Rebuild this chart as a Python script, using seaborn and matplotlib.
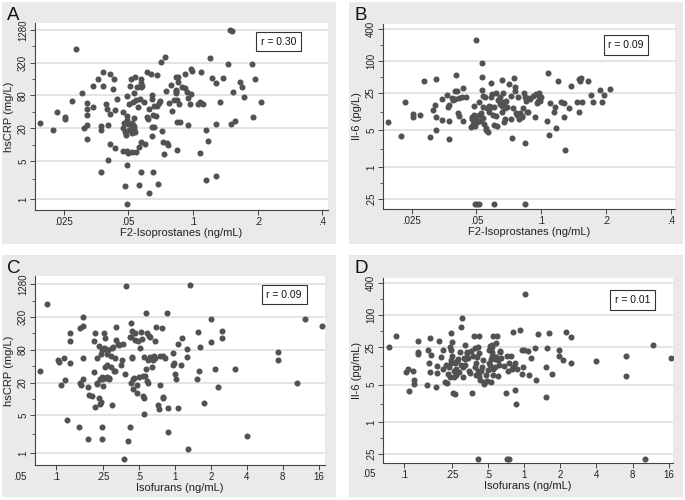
import matplotlib
matplotlib.use("Agg")
import matplotlib.pyplot as plt
import seaborn as sns
from matplotlib.patches import Rectangle
from matplotlib.ticker import FixedLocator, NullLocator, NullFormatter

plt.rcParams["font.family"] = ["Liberation Sans", "DejaVu Sans"]

# --- data ---
# panel A: F2-isoprostanes vs hsCRP
a_x = [0.0194, 0.0224, 0.0234, 0.0254, 0.0254, 0.0274, 0.0285, 0.0303, 0.0312, 0.0322,
       0.0322, 0.0322, 0.0322, 0.0322, 0.0344, 0.0344, 0.0363, 0.0373, 0.0373, 0.0373,
       0.0383, 0.0383, 0.0393, 0.040, 0.0403, 0.0403, 0.041, 0.041, 0.041, 0.0423,
       0.043, 0.0432, 0.0432, 0.0441, 0.047, 0.047, 0.0472, 0.0478, 0.0482, 0.0484,
       0.0487, 0.0491, 0.0491, 0.0491, 0.0491, 0.0491, 0.0495, 0.050, 0.0498, 0.0502,
       0.0505, 0.0509, 0.0513, 0.0518, 0.052, 0.052, 0.0523, 0.0527, 0.053, 0.0534,
       0.0534, 0.0532, 0.0536, 0.0538, 0.0541, 0.0545, 0.0549, 0.0556, 0.056, 0.0563,
       0.0567, 0.057, 0.0572, 0.0574, 0.0576, 0.0576, 0.058, 0.0594, 0.060, 0.0608,
       0.0608, 0.0617, 0.0622, 0.0622, 0.064, 0.0642, 0.0645, 0.0647, 0.0648, 0.0652,
       0.0652, 0.066, 0.0662, 0.067, 0.0677, 0.068, 0.069, 0.0692, 0.070, 0.0708,
       0.0716, 0.074, 0.0727, 0.0735, 0.075, 0.0757, 0.0769, 0.0774, 0.0787, 0.0802,
       0.0819, 0.083, 0.0833, 0.0833, 0.0833, 0.084, 0.084, 0.0846, 0.0855, 0.0855,
       0.0864, 0.087, 0.0885, 0.092, 0.0923, 0.0937, 0.0947, 0.095, 0.0967, 0.0982,
       0.0982, 0.0989, 0.106, 0.108, 0.109, 0.108, 0.111, 0.115, 0.115, 0.117,
       0.120, 0.122, 0.128, 0.128, 0.128, 0.134, 0.138, 0.146, 0.148, 0.152,
       0.150, 0.154, 0.157, 0.165, 0.170, 0.172, 0.188, 0.190, 0.195, 0.208]
a_y = [24.6, 18.5, 40, 31.6, 29.6, 63, 564, 89, 20.5, 57,
       45.7, 35.5, 22.6, 12.8, 48.5, 121, 159, 21.9, 18.3, 3.1,
       216, 120, 56, 46, 22.6, 5.3, 198, 36.6, 10.2, 103,
       163, 42.6, 8.8, 70, 39, 7.7, 19.9, 24.6, 1.76, 17.3,
       15, 79.5, 33.7, 28.3, 4.2, 0.81, 7.6, 7.1, 24, 18.5,
       56, 119, 159, 24.6, 16.1, 7.2, 20.8, 61.5, 22, 19.1,
       30.3, 87.6, 178, 17.3, 7.4, 66, 113, 48.5, 9.1, 1.8,
       68, 3.1, 11.3, 113, 134, 163, 119, 60.6, 10.2, 219,
       31.6, 29.1, 1.27, 45, 198, 81.7, 68, 20.8, 14.3, 3.1,
       35, 52, 21.3, 33.7, 188, 51, 1.9, 57, 64, 329,
       18, 402, 11.3, 6.7, 98, 10.5, 9.8, 57, 123, 42,
       66, 101, 178, 98, 90, 8, 26, 66, 173, 143,
       56, 26, 116, 108, 196, 94, 71, 22.6, 55, 85.5,
       242, 226, 56, 61.5, 219, 6.9, 56, 18.5, 2.2, 11.7,
       385, 170, 137, 24, 2.6, 61.5, 166, 303, 1280, 1230,
       24, 94, 27, 143, 116, 74, 303, 31.6, 161, 60]

# panel B: F2-isoprostanes vs Il-6
b_x = [0.0195, 0.0224, 0.0234, 0.0254, 0.0254, 0.0272, 0.0285, 0.0303, 0.0314, 0.032,
       0.0324, 0.0324, 0.0324, 0.0344, 0.0344, 0.0363, 0.037, 0.0372, 0.0372, 0.0374,
       0.0383, 0.039, 0.0396, 0.0402, 0.0399, 0.0406, 0.041, 0.0414, 0.0415, 0.0427,
       0.0431, 0.0433, 0.0445, 0.0473, 0.0476, 0.0479, 0.0482, 0.0485, 0.0488, 0.0489,
       0.0494, 0.050, 0.050, 0.0505, 0.0513, 0.0514, 0.0518, 0.0523, 0.053, 0.0532,
       0.0532, 0.0535, 0.0537, 0.0538, 0.054, 0.0548, 0.0552, 0.0556, 0.0561, 0.0566,
       0.057, 0.0574, 0.0581, 0.0581, 0.0587, 0.0593, 0.0597, 0.060, 0.0606, 0.0613,
       0.0619, 0.0622, 0.0632, 0.064, 0.0646, 0.0654, 0.0658, 0.066, 0.0665, 0.0665,
       0.0671, 0.0673, 0.0676, 0.0681, 0.0689, 0.0693, 0.071, 0.0721, 0.0725, 0.0735,
       0.0742, 0.075, 0.0755, 0.0757, 0.0765, 0.0775, 0.078, 0.0787, 0.0794, 0.081,
       0.0818, 0.0823, 0.0831, 0.084, 0.0843, 0.0849, 0.0856, 0.0867, 0.087, 0.089,
       0.0916, 0.0937, 0.0947, 0.0954, 0.0961, 0.0971, 0.098, 0.0991, 0.100, 0.106,
       0.108, 0.109, 0.11, 0.115, 0.116, 0.117, 0.12, 0.123, 0.127, 0.127,
       0.129, 0.135, 0.138, 0.147, 0.149, 0.150, 0.151, 0.153, 0.155, 0.165,
       0.170, 0.173, 0.188, 0.191, 0.195, 0.208, 0.0493, 0.0505, 0.0516, 0.0601,
       0.084]
b_y = [7.2, 3.9, 16.7, 9.9, 8.7, 9.8, 42.3, 3.7, 12, 14.7,
       46.7, 8.9, 5.1, 7.75, 19.3, 22.7, 13.4, 3.4, 7.4, 14.7,
       19.9, 18.5, 19.0, 54, 27, 27, 10.4, 9.3, 19.9, 20.8,
       31.7, 7.5, 21.3, 5.8, 8.9, 8.2, 6.5, 7.8, 9.6, 14.3,
       6.0, 252, 8.7, 7.2, 17.2, 9.6, 7.5, 10.4, 91, 50,
       28.5, 13.9, 22, 8.3, 6.5, 20.8, 5.4, 5.0, 13.2, 4.6,
       11.1, 14.3, 39, 13.4, 21.3, 24, 9.6, 6.25, 13.9, 25.5,
       9.2, 6.0, 18.5, 15.5, 20.8, 14.3, 11.1, 44, 25.5, 17.2,
       16.0, 7.2, 12.8, 8.0, 17.9, 13.4, 37.6, 22, 8.1, 3.5,
       12.8, 47.4, 33, 27.4, 10.4, 9.6, 21.3, 8.0, 10.4, 9.2,
       8.7, 12.8, 25.5, 2.9, 21.3, 17.6, 11.1, 20.4, 10.9, 19.0,
       22, 8.9, 24, 16.0, 17.9, 22, 25.5, 17.9, 20.8, 7.5,
       60.7, 4.0, 16.0, 11.1, 13.9, 5.6, 42.8, 17.2, 8.7, 16.4,
       2.1, 12.8, 34, 17.2, 11.1, 45.3, 42.8, 47.4, 17.2, 41.8,
       23, 17.2, 28.5, 17.2, 23, 29.8, 0.2, 0.2, 0.2, 0.2,
       0.2]

# panel C: isofurans vs hsCRP
c_x = [0.0743, 0.085, 0.105, 0.107, 0.11, 0.118, 0.12, 0.125, 0.132, 0.132,
       0.132, 0.157, 0.16, 0.16, 0.162, 0.168, 0.168, 0.168, 0.17, 0.187,
       0.188, 0.191, 0.2, 0.21, 0.21, 0.215, 0.213, 0.22, 0.222, 0.223,
       0.23, 0.231, 0.235, 0.241, 0.237, 0.239, 0.242, 0.243, 0.244, 0.246,
       0.246, 0.248, 0.254, 0.252, 0.258, 0.259, 0.261, 0.262, 0.265, 0.267,
       0.269, 0.271, 0.274, 0.279, 0.279, 0.291, 0.291, 0.294, 0.297, 0.301,
       0.305, 0.314, 0.314, 0.32, 0.323, 0.335, 0.338, 0.35, 0.358, 0.365,
       0.381, 0.388, 0.376, 0.406, 0.418, 0.42, 0.424, 0.428, 0.428, 0.432,
       0.436, 0.44, 0.442, 0.446, 0.451, 0.462, 0.466, 0.476, 0.479, 0.488,
       0.503, 0.51, 0.52, 0.53, 0.536, 0.536, 0.546, 0.553, 0.553, 0.564,
       0.571, 0.571, 0.583, 0.583, 0.59, 0.59, 0.6, 0.613, 0.613, 0.646,
       0.659, 0.672, 0.685, 0.685, 0.692, 0.725, 0.735, 0.75, 0.751, 0.774,
       0.79, 0.8, 0.8, 0.83, 0.851, 0.867, 0.87, 0.956, 0.969, 0.982,
       1.0, 1.02, 1.05, 1.066, 1.12, 1.15, 1.25, 1.25, 1.29, 1.34,
       1.55, 1.54, 1.6, 1.62, 1.75, 1.99, 1.99, 2.16, 2.28, 2.49,
       2.49, 3.2, 4.04, 7.35, 7.35, 10.5, 12.3, 17.0]
c_y = [32, 556, 52, 48, 18, 57, 22, 4.1, 45, 118,
       165, 3.1, 20, 198, 18, 219, 325, 23, 57, 16.8,
       1.8, 11.8, 11.3, 31.6, 118, 161, 7.2, 20, 19, 57,
       10.6, 94, 23, 67, 8, 8.9, 25, 80, 1.8, 23,
       3.1, 17, 161, 85, 24, 39, 130, 24, 82, 67,
       25, 42, 80, 23, 24, 62, 39, 7.7, 85, 89,
       33, 57, 32, 121, 213, 102, 98, 42, 52, 102,
       29, 1190, 0.8, 1.7, 136, 3.1, 20, 253, 136, 57,
       178, 60, 23, 15, 24, 121, 161, 18, 12.6, 118,
       25, 85, 173, 124, 11.3, 26, 10.2, 5.3, 60, 26,
       375, 36, 21, 161, 20, 53, 143, 136, 60, 38,
       52, 62, 118, 57, 213, 7.7, 6.5, 62, 18, 198,
       10.2, 10.7, 62, 57, 385, 6.8, 2.5, 69, 42, 46,
       29, 23, 6.8, 101, 42, 130, 58, 82, 1.2, 1245,
       173, 23, 32, 91, 8.4, 290, 113, 35, 16.8, 130,
       180, 35, 2.1, 73, 52, 19.7, 294, 219]

# panel D: isofurans vs Il-6
d_x = [0.074, 0.085, 0.103, 0.106, 0.109, 0.117, 0.12, 0.12, 0.129, 0.13,
       0.13, 0.155, 0.157, 0.16, 0.163, 0.164, 0.168, 0.185, 0.187, 0.187,
       0.196, 0.2, 0.21, 0.21, 0.218, 0.224, 0.225, 0.23, 0.235, 0.24,
       0.24, 0.243, 0.244, 0.246, 0.247, 0.246, 0.25, 0.255, 0.258, 0.26,
       0.262, 0.262, 0.267, 0.271, 0.275, 0.278, 0.286, 0.29, 0.294, 0.296,
       0.304, 0.306, 0.309, 0.313, 0.317, 0.319, 0.322, 0.327, 0.331, 0.334,
       0.341, 0.348, 0.353, 0.357, 0.365, 0.375, 0.379, 0.387, 0.389, 0.394,
       0.398, 0.403, 0.408, 0.411, 0.413, 0.42, 0.418, 0.42, 0.425, 0.436,
       0.44, 0.45, 0.458, 0.463, 0.478, 0.485, 0.5, 0.503, 0.51, 0.513,
       0.517, 0.525, 0.525, 0.533, 0.535, 0.54, 0.542, 0.546, 0.55, 0.552,
       0.56, 0.567, 0.57, 0.572, 0.578, 0.585, 0.59, 0.599, 0.605, 0.615,
       0.623, 0.63, 0.645, 0.68, 0.707, 0.718, 0.723, 0.727, 0.74, 0.748,
       0.784, 0.78, 0.798, 0.806, 0.836, 0.825, 0.836, 0.86, 0.874, 0.92,
       0.95, 0.961, 0.985, 0.98, 1.01, 1.07, 1.1, 1.14, 1.23, 1.26,
       1.3, 1.52, 1.52, 1.56, 1.61, 1.7, 1.93, 1.95, 2.12, 2.23,
       2.43, 2.43, 3.94, 7.06, 7.06, 10.2, 11.9, 16.7]
d_y = [25.2, 41, 8.8, 10, 3.8, 9.2, 6.1, 5.2, 18.9, 20.3,
       33.5, 4.9, 22.4, 12.9, 8.8, 37, 18, 4.6, 8.4, 11.2,
       33, 16.8, 10, 22.4, 5.7, 11.8, 5.3, 7.9, 10.9, 25,
       6.9, 14.6, 12.6, 46, 32, 22.4, 17.3, 3.5, 7.1, 9.0,
       3.4, 12.6, 7.6, 9.7, 14.2, 15, 8.8, 20.9, 60, 11.8,
       88, 10.6, 7.1, 15.6, 27.8, 15, 11.8, 15.6, 20.9, 19.4,
       15.6, 9.2, 8.4, 21.8, 3.5, 17.3, 41, 10.6, 24.2, 7.6,
       12.6, 16.8, 9.2, 25, 0.2, 41, 7.3, 19.4, 6.1, 9.2,
       10.9, 14.6, 5.7, 5.2, 7.6, 5.9, 9.4, 22.4, 12.6, 26.7,
       11.8, 15, 5.7, 27.8, 20.9, 17.3, 25, 41, 7.6, 10,
       16.8, 15, 10.9, 16.4, 16.8, 30, 41, 7.3, 14.6, 11.8,
       20.9, 21.8, 15.6, 11.2, 3.5, 0.2, 17.3, 9.2, 12.9, 0.2,
       10, 17.3, 10.6, 49.6, 12.9, 10.6, 4.0, 2.2, 10, 53,
       22.4, 7.8, 22.4, 10.6, 252, 21.8, 7.6, 15.6, 24.2, 6.1,
       45, 10.9, 3.0, 24.7, 47, 7.8, 22.4, 17.3, 14.6, 49.6,
       38.7, 12.9, 13.8, 17.3, 7.2, 0.2, 27.8, 15.6]

crp_ticks = [1, 5, 20, 80, 320, 1280]
crp_labels = ["1", "5", "20", "80", "320", "1280"]
il6_ticks = [0.25, 1, 5, 25, 100, 400]
il6_labels = [".25", "1", "5", "25", "100", "400"]
f2_ticks = [0.025, 0.05, 0.1, 0.2, 0.4]
f2_labels = [".025", ".05", ".1", ".2", ".4"]
iso_ticks = [0.1, 0.25, 0.5, 1, 2, 4, 8, 16]
iso_labels = [".1", ".25", ".5", "1", "2", "4", "8", "16"]

W, H = 685, 500
fig = plt.figure(figsize=(W / 100, H / 100), dpi=100)
fig.patch.set_facecolor("white")


def frac(l, t, r, b):
    return [l / W, 1 - b / H, (r - l) / W, (b - t) / H]


panels = [
    # letter, box, axes rect, x, y, xlim, ylim, xticks, yticks, y minor,
    # ylabel, xlabel, r text, r position
    ("A", (2, 2, 336, 244), (35, 23, 328, 210), a_x, a_y, (0.0184, 0.425), (0.625, 1722),
     (f2_ticks, f2_labels), (crp_ticks, crp_labels), [640, 160, 40, 10, 2.3],
     "hsCRP (mg/L)", "F2-Isoprostanes (ng/mL)", "r = 0.30", (0.83, 0.90)),
    ("B", (349, 2, 683, 244), (383, 24, 675, 209), b_x, b_y, (0.0184, 0.418), (0.162, 504),
     (f2_ticks, f2_labels), (il6_ticks, il6_labels), [200, 50, 11, 2.2, 0.5],
     "Il-6 (pg/L)", "F2-Isoprostanes (ng/mL)", "r = 0.09", (0.832, 0.886)),
    ("C", (2, 255, 336, 497), (35, 276, 325, 465), c_x, c_y, (0.067, 18.1), (0.61, 1818),
     (iso_ticks, iso_labels), (crp_ticks, crp_labels), [640, 160, 40, 10, 2.3],
     "hsCRP (mg/L)", "Isofurans (ng/mL)", "r = 0.09", (0.859, 0.902)),
    ("D", (349, 255, 683, 497), (383, 278, 673, 463), d_x, d_y, (0.0662, 17.4), (0.17, 503),
     (iso_ticks, iso_labels), (il6_ticks, il6_labels), [200, 50, 11, 2.2, 0.5],
     "Il-6 (pg/mL)", "Isofurans (ng/mL)", "r = 0.01", (0.86, 0.881)),
]

for (letter, box, rect, xs, ys, xlim, ylim, xt, yt, yminor,
     ylab, xlab, rtxt, rpos) in panels:
    l, t, r, b = box
    fig.add_artist(Rectangle((l / W, 1 - b / H), (r - l) / W, (b - t) / H,
                             transform=fig.transFigure, facecolor="#eaeaea",
                             edgecolor="none", zorder=0))
    fig.text((l + 5) / W, 1 - (t + 5) / H, letter, fontsize=13.5, va="top",
             ha="left", color="#111111")

    ax = fig.add_axes(frac(*rect))
    ax.set_facecolor("white")
    sns.scatterplot(x=xs, y=ys, ax=ax, color="#525252", s=19, linewidth=0,
                    zorder=3)
    ax.set_xscale("log")
    ax.set_yscale("log")
    ax.set_xlim(*xlim)
    ax.set_ylim(*ylim)

    ax.xaxis.set_major_locator(FixedLocator(xt[0]))
    ax.set_xticklabels(xt[1])
    ax.xaxis.set_minor_locator(NullLocator())
    ax.yaxis.set_major_locator(FixedLocator(yt[0]))
    ax.set_yticklabels(yt[1], rotation=90, va="center")
    ax.yaxis.set_minor_locator(FixedLocator(yminor))
    ax.yaxis.set_minor_formatter(NullFormatter())

    ax.tick_params(axis="both", which="major", labelsize=7, length=3.5,
                   width=0.7, color="#444444", labelcolor="#222222", pad=1.5)
    ax.tick_params(axis="y", which="minor", length=2.5, width=0.6, color="#444444")
    ax.yaxis.grid(True, which="major", color="#e2e2e2", lw=1.3)
    ax.set_axisbelow(True)

    for side in ["top", "right"]:
        ax.spines[side].set_visible(False)
    for side in ["left", "bottom"]:
        ax.spines[side].set_color("#444444")
        ax.spines[side].set_linewidth(0.8)

    ax.set_xlabel(xlab, fontsize=8, color="#222222", labelpad=1)
    ax.set_ylabel(ylab, fontsize=8, color="#222222", labelpad=3)

    if xt[0] is iso_ticks:
        # the .05 label sits left of the axis in the original
        ax.text(0.05, -0.035, ".05", transform=ax.get_xaxis_transform(),
                fontsize=7, color="#222222", ha="center", va="top",
                clip_on=False)

    ax.text(rpos[0], rpos[1], rtxt, transform=ax.transAxes, fontsize=7.5,
            ha="center", va="center", color="#111111",
            bbox=dict(boxstyle="square,pad=0.45", facecolor="white",
                      edgecolor="#333333", linewidth=0.8))

fig.savefig("out.png", dpi=100, facecolor="white")
